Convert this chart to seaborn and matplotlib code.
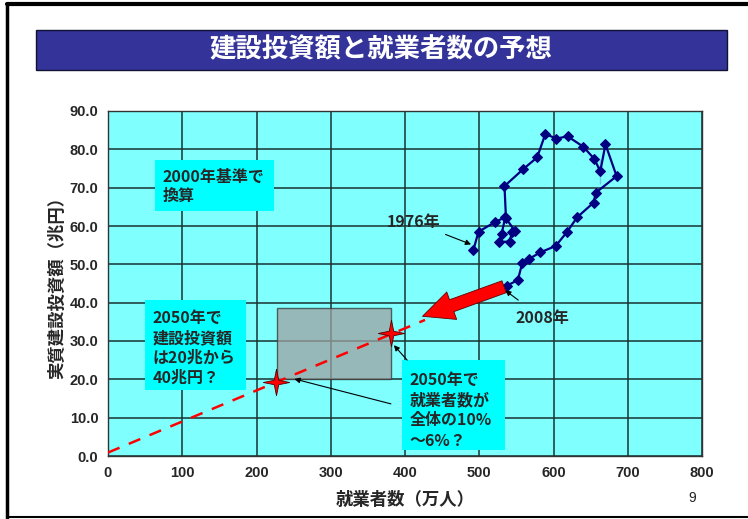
import matplotlib
matplotlib.use("Agg")
import matplotlib.pyplot as plt
import matplotlib.patches as mpatches
import seaborn as sns
import pandas as pd

# ---- data ----
workers = [492, 499, 521, 535, 530, 527, 541, 544, 548, 536, 534, 559, 578, 589,
           604, 619, 640, 655, 663, 670, 685, 663, 657, 654, 632, 618, 603, 582,
           567, 558, 552, 537]
invest = [53.7, 58.5, 61.0, 62.3, 57.8, 55.9, 55.9, 58.5, 58.7, 62.0, 70.4, 74.8,
          77.9, 84.0, 82.8, 83.4, 80.7, 77.5, 77.5, 81.3, 73.0, 71.0, 68.7, 66.1,
          62.3, 58.4, 54.8, 53.1, 51.4, 50.4, 45.9, 44.4]
trend_x = [0, 427]
trend_y = [0.9, 35.5]
star_x = [226, 381]
star_y = [19.3, 32.2]
range_x = [227, 381]
range_y = [20.0, 38.5]
xticks = [0, 100, 200, 300, 400, 500, 600, 700, 800]
yticks = [0, 10, 20, 30, 40, 50, 60, 70, 80, 90]

title = "建設投資額と就業者数の予想"
xlabel = "就業者数（万人）"
ylabel = "実質建設投資額（兆円）"
note_base = "2000年基準で\n換算"
note_invest = "2050年で\n建設投資額\nは20兆から\n40兆円？"
note_workers = "2050年で\n就業者数が\n全体の10%\n～6%？"

sns.set_theme(style="white")
plt.rcParams['font.family'] = ['Noto Sans CJK JP', 'DejaVu Sans']

W, H = 748, 519
fig = plt.figure(figsize=(W / 100, H / 100), dpi=100)
fig.patch.set_facecolor("white")

def fx(px):
    return px / W

def fy(py):
    return 1 - py / H

# slide border lines
fig.add_artist(plt.Line2D([fx(7), fx(7)], [fy(4), fy(518)], color="black", lw=2.5))
fig.add_artist(plt.Line2D([fx(7), fx(748)], [fy(4), fy(4)], color="black", lw=3))
fig.add_artist(plt.Line2D([fx(7), fx(748)], [fy(517), fy(517)], color="black", lw=1.5))

# title banner
fig.add_artist(mpatches.Rectangle((fx(36), fy(70)), fx(727) - fx(36), fy(30) - fy(70),
                                  facecolor="#333399", edgecolor="#111133", lw=1,
                                  transform=fig.transFigure))
fig.text(fx(381), fy(50), title, color="white", fontsize=19, fontweight="bold",
         ha="center", va="center")

ax = fig.add_axes([fx(108), fy(456), fx(702) - fx(108), fy(111) - fy(456)])
ax.set_facecolor("#80FFFF")
ax.set_xlim(0, 800)
ax.set_ylim(0, 90)
ax.set_xticks(xticks)
ax.set_yticks(yticks)
tickfont = dict(fontsize=10.5, fontweight="bold", family=["Liberation Sans", "DejaVu Sans"])
ax.set_xticklabels([str(v) for v in xticks], **tickfont)
ax.set_yticklabels([f"{v:.1f}" for v in yticks], **tickfont)
ax.grid(True, color="#1a3333", lw=1.1)
ax.set_axisbelow(True)
for s in ax.spines.values():
    s.set_color("#333333")
    s.set_linewidth(1)
ax.tick_params(length=0, pad=7)

# gray range box
ax.add_patch(mpatches.Rectangle((range_x[0], range_y[0]), range_x[1] - range_x[0],
                                range_y[1] - range_y[0], facecolor="#a0a0a0",
                                alpha=0.75, edgecolor="#333333", lw=1, zorder=2))

# trend dashed line
trend = pd.DataFrame({"x": trend_x, "y": trend_y})
sns.lineplot(data=trend, x="x", y="y", ax=ax, color="red", lw=1.8,
             linestyle=(0, (5, 4)), zorder=3)

# historical path
df = pd.DataFrame({"workers": workers, "invest": invest})
sns.lineplot(data=df, x="workers", y="invest", sort=False, ax=ax, color="#000080",
             lw=1.6, marker="D", markersize=4.6, markeredgecolor="#000080", zorder=4)

# stars (thin four-point)
k = 0.17
star_marker = [(0, 1), (k, k), (1, 0), (k, -k), (0, -1), (-k, -k), (-1, 0), (-k, k), (0, 1)]
stars = pd.DataFrame({"x": star_x, "y": star_y})
sns.scatterplot(data=stars, x="x", y="y", ax=ax, marker=star_marker, s=360,
                color="red", edgecolor="#550000", linewidth=0.6, zorder=5)

# big red arrow from last point to trend end
ax.annotate("", xy=(trend_x[1] - 7, trend_y[1] + 0.7), xytext=(workers[-1], invest[-1]),
            arrowprops=dict(arrowstyle="simple,head_width=1.5,head_length=1.6,tail_width=0.65",
                            mutation_scale=14, fc="red", ec="#660000", lw=0.6),
            zorder=6)

ax.set_xlabel(xlabel, fontsize=12.5, fontweight="bold", labelpad=8)
ax.set_ylabel(ylabel, fontsize=12.5, fontweight="bold", labelpad=2)

# annotation boxes (drawn in data coords)
def note(x0, x1, y0, y1, tx, ty, txt, ls):
    ax.add_patch(mpatches.Rectangle((x0, y0), x1 - x0, y1 - y0, facecolor="#00FFFF",
                                    edgecolor="none", zorder=7))
    ax.text(tx, ty, txt, fontsize=11.5, fontweight="bold", ha="left", va="top",
            linespacing=ls, zorder=8)

note(63.3, 223.6, 63.9, 77.2, 74, 75.0, note_base, 1.25)
note(49.8, 186.5, 17.2, 40.7, 60, 38.0, note_invest, 1.3)
note(395.7, 534.5, 1.6, 25.0, 406, 21.9, note_workers, 1.32)

ax.annotate("1976年", xy=(workers[0] - 3, invest[0] + 1.5), xytext=(376, 61.0),
            fontsize=11.5, fontweight="bold", ha="left", va="center",
            arrowprops=dict(arrowstyle="-|>", color="black", lw=0.8,
                            shrinkA=2, shrinkB=0, mutation_scale=8), zorder=7)
ax.annotate("2008年", xy=(workers[-1] - 2, invest[-1] - 1.2), xytext=(585, 36.0),
            fontsize=11.5, fontweight="bold", ha="center", va="center",
            arrowprops=dict(arrowstyle="-|>", color="black", lw=0.8,
                            shrinkA=8, shrinkB=0, mutation_scale=8), zorder=7)
ax.annotate("", xy=(star_x[1] + 4, star_y[1] - 3.3), xytext=(403, 25.0),
            arrowprops=dict(arrowstyle="-|>", color="black", lw=0.8,
                            shrinkA=0, shrinkB=0, mutation_scale=8), zorder=7)
ax.annotate("", xy=(star_x[0] + 25, star_y[0] + 0.8), xytext=(381, 13.6),
            arrowprops=dict(arrowstyle="-|>", color="black", lw=0.8,
                            shrinkA=0, shrinkB=0, mutation_scale=8), zorder=7)

fig.text(fx(692), fy(498), "9", fontsize=10, ha="center", va="center", color="#222222",
         family=["Liberation Sans", "DejaVu Sans"])

fig.savefig("out.png", dpi=100)
